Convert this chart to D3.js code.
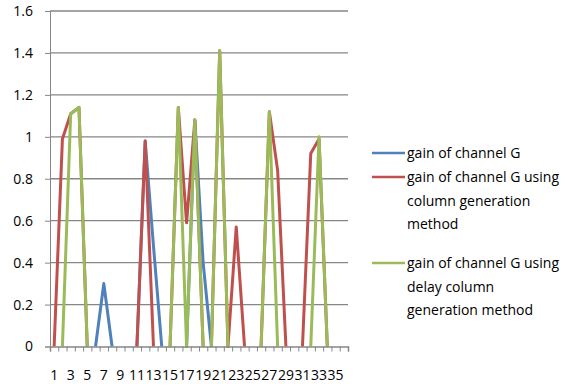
<!DOCTYPE html>
<html>
<head>
<meta charset="utf-8">
<script src="https://cdn.jsdelivr.net/npm/d3@7"></script>
<style>
  body { margin: 0; background: #fff; }
  text { font-family: "Open Sans", sans-serif; fill: #000; }
</style>
</head>
<body>
<div id="chart"></div>
<script>
// categories 1..36
const categories = [1,2,3,4,5,6,7,8,9,10,11,12,13,14,15,16,17,18,19,20,21,22,23,24,25,26,27,28,29,30,31,32,33,34,35,36];
const gainG =       [0,0,0,0,0,0,0.30,0,0,0,0,0.98,0.48,0,0,0,0,1.08,0.40,0,0,0,0,0,0,0,0,0,0,0,0,0,0,0,0,0];
const gainColumn =  [0,0.99,1.11,1.14,0,0,0,0,0,0,0,0.98,0,0,0,1.14,0.59,1.08,0,0,1.41,0,0.57,0,0,0,1.12,0.84,0,0,0,0.92,0.99,0,0,0];
const gainDelay =   [0,0,1.11,1.14,0,0,0,0,0,0,0,0,0,0,0,1.14,0,1.08,0,0,1.41,0,0,0,0,0,1.12,0,0,0,0,0,1.0,0,0,0];
const yTicks = [0,0.2,0.4,0.6,0.8,1,1.2,1.4,1.6];
const xLabels = [1,3,5,7,9,11,13,15,17,19,21,23,25,27,29,31,33,35];

const series = [
  { name: ["gain of channel G"], values: gainG, color: "#4f81bd" },
  { name: ["gain of channel G using", "column generation", "method"], values: gainColumn, color: "#c0504d" },
  { name: ["gain of channel G using", "delay column", "generation method"], values: gainDelay, color: "#9bbb59" }
];

var width = 565,
    height = 389;
const plotLeft = 50, plotRight = 348, plotTop = 11, plotBottom = 346.5;

const svg = d3.select("#chart")
  .append("svg")
    .attr("width", width)
    .attr("height", height);

const x = d3.scaleBand().domain(categories).range([plotLeft, plotRight]).padding(0);
const xEdge = d3.scaleLinear().domain([0, categories.length]).range([plotLeft, plotRight]);
const y = d3.scaleLinear().domain([0, 1.6]).range([plotBottom, plotTop]);

// gridlines + y axis
const yAxis = svg.append("g")
  .attr("transform", `translate(${plotLeft},0)`)
  .call(d3.axisLeft(y).tickValues(yTicks).tickSize(5).tickPadding(12)
    .tickFormat(d => String(+d.toFixed(1))));
yAxis.select(".domain").attr("stroke", "#868686");
yAxis.selectAll(".tick line").attr("stroke", "#868686");
yAxis.selectAll(".tick text").style("font-size", "14px");

svg.append("g")
  .selectAll("line")
  .data(yTicks.slice(1))
  .join("line")
    .attr("x1", plotLeft).attr("x2", plotRight)
    .attr("y1", d => y(d)).attr("y2", d => y(d))
    .attr("stroke", "#868686")
    .attr("stroke-width", 1.3);

// runs of the series that leave the zero line (flat zero stretches sit under the axis)
function runs(values) {
  const out = [];
  let cur = null;
  d3.pairs(values.map((v, i) => [categories[i], v])).forEach(([a, b]) => {
    if (a[1] === 0 && b[1] === 0) { cur = null; return; }
    if (!cur) { cur = [a]; out.push(cur); }
    cur.push(b);
  });
  return out;
}

const line = d3.line()
  .x(d => x(d[0]) + x.bandwidth() / 2)
  .y(d => y(d[1]));

svg.append("g")
  .selectAll("g")
  .data(series)
  .join("g")
    .attr("stroke", d => d.color)
  .selectAll("path")
  .data(d => runs(d.values))
  .join("path")
    .attr("fill", "none")
    .attr("stroke-width", 3)
    .attr("stroke-linejoin", "round")
    .attr("d", line);

// x axis ticks between categories, on top of the lines
const xTickAxis = svg.append("g")
  .attr("transform", `translate(0,${plotBottom})`)
  .call(d3.axisBottom(xEdge).tickValues(d3.range(0, categories.length + 1)).tickSize(5).tickFormat(""));
xTickAxis.select(".domain").attr("stroke", "#868686").attr("stroke-width", 1.5);
xTickAxis.selectAll(".tick line").attr("stroke", "#868686");

const xLabelAxis = svg.append("g")
  .attr("transform", `translate(0,${plotBottom})`)
  .call(d3.axisBottom(x).tickValues(xLabels).tickSize(0).tickPadding(24));
xLabelAxis.select(".domain").remove();
xLabelAxis.selectAll(".tick text").style("font-size", "14px");

// legend
const legendY = [153, 177, 263];
const legend = svg.append("g")
  .selectAll("g")
  .data(series)
  .join("g")
    .attr("transform", (d, i) => `translate(0,${legendY[i]})`);

legend.append("line")
  .attr("x1", 372).attr("x2", 405)
  .attr("y1", 0).attr("y2", 0)
  .attr("stroke", d => d.color)
  .attr("stroke-width", 2.5);

legend.append("text")
  .attr("x", 407)
  .attr("y", 5)
  .style("font-size", "14px")
  .selectAll("tspan")
  .data(d => d.name)
  .join("tspan")
    .attr("x", 407)
    .attr("dy", (d, i) => i === 0 ? 0 : 23.5)
    .text(d => d);
</script>
</body>
</html>
